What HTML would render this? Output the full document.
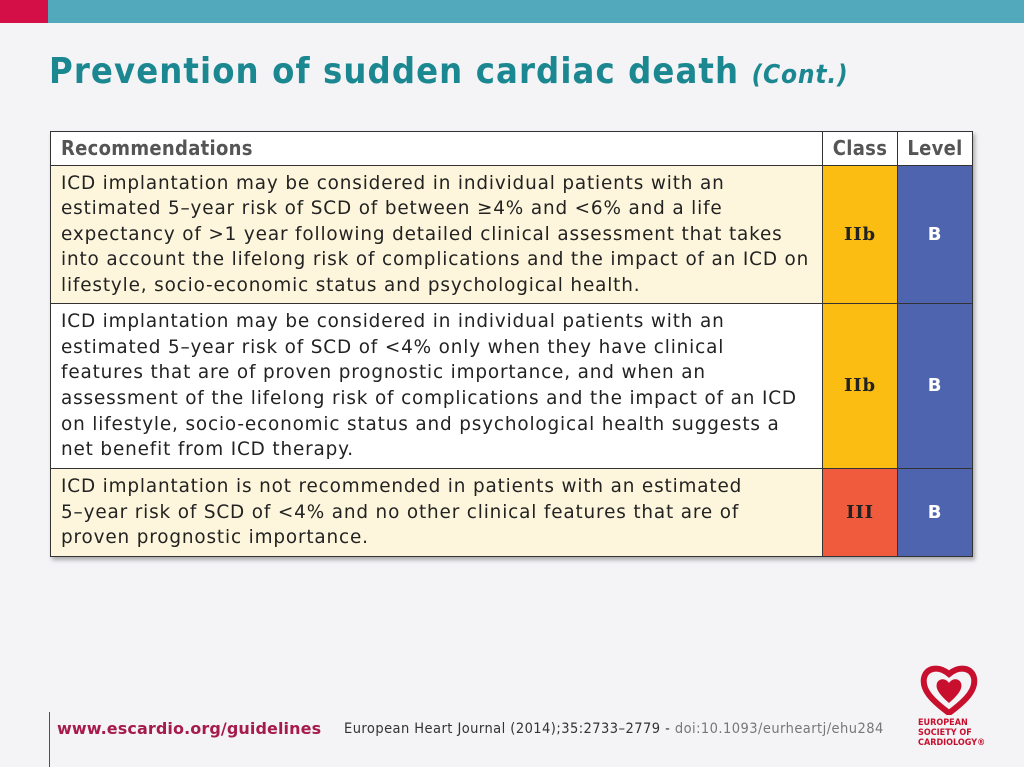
<!DOCTYPE html>
<html><head><meta charset="utf-8"><style>
body{margin:0;width:1024px;height:767px;background:#f4f3f6;position:relative;overflow:hidden;font-family:"DejaVu Sans","Liberation Sans",sans-serif}
.bar{position:absolute;left:0;top:0;width:1024px;height:23px;background:#52a9bb}
.red{position:absolute;left:0;top:0;width:48px;height:23px;background:#d40f47}
h1{position:absolute;left:49px;top:51px;margin:0;font-family:"DejaVu Sans Condensed","DejaVu Sans",sans-serif;font-weight:bold;font-size:36px;color:#1b8891;letter-spacing:1.1px;white-space:nowrap}
h1 i{font-size:26px;letter-spacing:0.8px}
table{position:absolute;left:50px;top:131px;width:923px;border-collapse:collapse;box-shadow:2px 3px 4px rgba(0,0,0,.3)}
td{border:1.5px solid #333;font-size:18.4px;line-height:25.6px;color:#222;padding:0 4px 0 10px;vertical-align:middle;letter-spacing:0.85px;white-space:nowrap}
.h td{background:#fff;height:33px;font-weight:bold;color:#555;font-family:"DejaVu Sans Condensed","DejaVu Sans",sans-serif;font-size:20px;letter-spacing:0.3px}
.h td.c{padding:0;text-align:center}
.y{background:#fdf6dc}
.w{background:#fff}
.cl{background:#fbbd12;text-align:center;font-family:"DejaVu Serif",serif;font-weight:bold;font-size:18px;padding:0;width:74px}
.rd{background:#ef5b3c}
.lv{background:#4f64af;color:#fff;text-align:center;font-weight:bold;padding:0;width:74px;font-size:18px}
.foot{position:absolute;left:49px;top:712px;height:55px;border-left:1.5px solid #c0174c}
.u{position:absolute;left:57px;top:719px;font-weight:bold;color:#a51b49;font-size:16px;letter-spacing:0.1px}
.j{position:absolute;left:344px;top:721px;font-size:14.5px;color:#333;font-family:"DejaVu Sans Condensed","DejaVu Sans",sans-serif;letter-spacing:0.45px;white-space:nowrap}
.j span{color:#777}
.esc{position:absolute;left:918px;top:718px;color:#c8102e;font-size:9px;font-weight:bold;line-height:10px;font-family:"DejaVu Sans Condensed",sans-serif}
</style></head><body>
<div class="bar"></div><div class="red"></div>
<h1>Prevention of sudden cardiac death <i>(Cont.)</i></h1>
<table>
<tr class="h"><td>Recommendations</td><td class="c">Class</td><td class="c">Level</td></tr>
<tr class="y" style="height:138px"><td>ICD implantation may be considered in individual patients with an<br>estimated 5–year risk of SCD of between ≥4% and &lt;6% and a life<br>expectancy of &gt;1 year following detailed clinical assessment that takes<br>into account the lifelong risk of complications and the impact of an ICD on<br>lifestyle, socio-economic status and psychological health.</td><td class="cl">IIb</td><td class="lv">B</td></tr>
<tr class="w" style="height:165px"><td>ICD implantation may be considered in individual patients with an<br>estimated 5–year risk of SCD of &lt;4% only when they have clinical<br>features that are of proven prognostic importance, and when an<br>assessment of the lifelong risk of complications and the impact of an ICD<br>on lifestyle, socio-economic status and psychological health suggests a<br>net benefit from ICD therapy.</td><td class="cl">IIb</td><td class="lv">B</td></tr>
<tr class="y" style="height:88px"><td>ICD implantation is not recommended in patients with an estimated<br>5–year risk of SCD of &lt;4% and no other clinical features that are of<br>proven prognostic importance.</td><td class="cl rd">III</td><td class="lv">B</td></tr>
</table>
<div class="foot"></div>
<div class="u">www.escardio.org/guidelines</div>
<div class="j">European Heart Journal (2014);35:2733–2779 - <span>doi:10.1093/eurheartj/ehu284</span></div>
<svg style="position:absolute;left:920px;top:665px" width="58" height="50" viewBox="0 0 58 50"><path d="M29 48 C10 34 2 24 4 13 C6 3 18 0 29 9 C40 0 52 3 54 13 C56 24 48 34 29 48Z" fill="none" stroke="#c8102e" stroke-width="6"/><path d="M29 38 C20 30 15 24 17 18 C19 13 26 13 29 18 C32 13 39 13 41 18 C43 24 38 30 29 38Z" fill="#c8102e"/></svg>
<div class="esc">EUROPEAN<br>SOCIETY OF<br>CARDIOLOGY®</div>
</body></html>
